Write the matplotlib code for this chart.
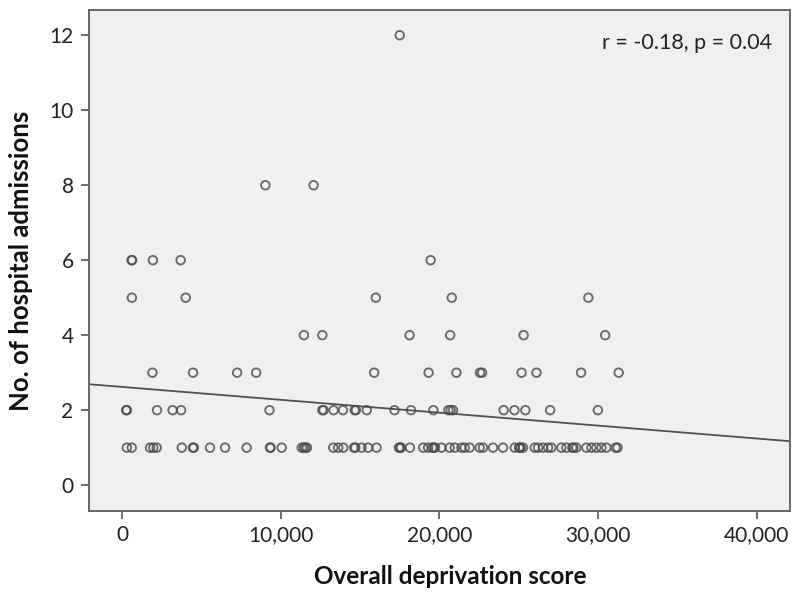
import matplotlib
matplotlib.use("Agg")
import matplotlib.pyplot as plt
from matplotlib.ticker import FuncFormatter
import numpy as np

plt.rcParams['font.family'] = ['Lato', 'DejaVu Sans']

# Data: deprivation score (x) and number of hospital admissions (y)
adm12_x = [17500]
adm8_x = [9030, 12070]
adm6_x = [600, 630, 1940, 3690, 19450]
adm5_x = [615, 4010, 15990, 20780, 29390]
adm4_x = [11460, 12620, 18120, 20680, 25310, 30450]
adm3_x = [1910, 4470, 7250, 8450, 15890, 19320, 21070, 22560, 22690,
          25180, 26120, 28930, 31300]
adm2_x = [250, 300, 2200, 3180, 3720, 9290, 12620, 12700, 13330, 13920,
          14660, 14740, 15420, 17170, 18210, 19620, 20570, 20710, 20860,
          24050, 24730, 25420, 26980, 29990]
adm1_x = [300, 610, 1760, 1970, 2180, 3760, 4460, 4520, 5540, 6490, 7850,
          9320, 9360, 10060, 11320, 11450, 11550, 11650, 13310, 13620, 13940,
          14620, 14700, 15090, 15510, 16040, 17450, 17520, 17580, 18140,
          18980, 19290, 19550, 19650, 19720, 20130, 20650, 20970, 21390,
          21600, 21910, 22540, 22750, 23380, 24010, 24750, 25020, 25080,
          25120, 25270, 26010, 26220, 26530, 26850, 27060, 27690, 28000,
          28380, 28450, 28630, 29260, 29580, 29890, 30210, 30520, 31110,
          31230]

groups = {12: adm12_x, 8: adm8_x, 6: adm6_x, 5: adm5_x, 4: adm4_x,
          3: adm3_x, 2: adm2_x, 1: adm1_x}

# Fit line (from reference)
fit_intercept = 2.62
fit_slope = -3.44e-5

annotation = "r = -0.18, p = 0.04"
x_ticks = [0, 10000, 20000, 30000, 40000]
y_ticks = [0, 2, 4, 6, 8, 10, 12]

fig = plt.figure(figsize=(8, 5.96), dpi=100)
ax = fig.add_axes([0.111, 0.1426, 0.8765, 0.8404])
ax.set_facecolor('#f0f0f0')

xs, ys = [], []
for yv, xl in groups.items():
    xs.extend(xl)
    ys.extend([yv] * len(xl))
ax.scatter(xs, ys, s=38, facecolors='none', edgecolors='#4a4a4a',
           linewidths=1.35, alpha=0.8, zorder=3)

xlim = (-2100, 42100)
ax.set_xlim(*xlim)
ax.set_ylim(-0.69, 12.67)
lx = np.array(xlim)
ax.plot(lx, fit_intercept + fit_slope * lx, color='#505050', lw=1.3, zorder=2)

ax.set_xticks(x_ticks)
ax.set_yticks(y_ticks)
ax.xaxis.set_major_formatter(FuncFormatter(lambda v, p: f"{int(v):,}"))
ax.tick_params(axis='both', direction='out', length=6, width=1.2,
               color='#555555', labelsize=15, labelcolor='#222222')
ax.tick_params(axis='x', pad=4)
ax.tick_params(axis='y', pad=5)
for s in ax.spines.values():
    s.set_color('#666666')
    s.set_linewidth(1.4)

ax.set_xlabel("Overall deprivation score", fontsize=17.5, fontweight='bold',
              color='#111111')
ax.xaxis.set_label_coords(0.516, -0.108)
ax.set_ylabel("No. of hospital admissions", fontsize=18.5, fontweight='bold',
              labelpad=12, color='#111111')

ax.text(0.975, 0.935, annotation, transform=ax.transAxes, ha='right',
        va='center', fontsize=15.5, color='#222222')

fig.savefig("out.png", dpi=100)
